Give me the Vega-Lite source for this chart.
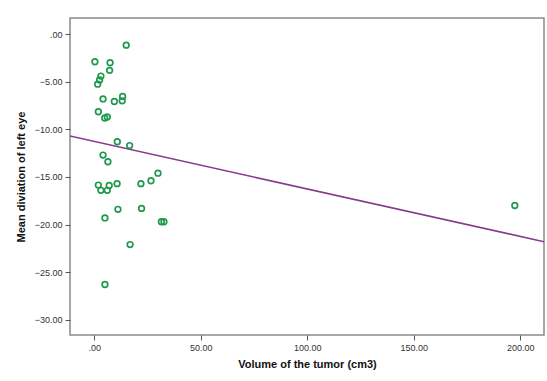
{
  "$schema": "https://vega.github.io/schema/vega-lite/v6.json",
  "width": 474,
  "height": 317,
  "autosize": {"type": "none"},
  "padding": {"left": 70, "top": 18, "right": 3, "bottom": 46},
  "background": "white",
  "config": {
    "view": {"stroke": "#8a8a8a", "strokeWidth": 1.5},
    "axis": {
      "grid": false,
      "domain": false,
      "tickColor": "#555",
      "tickSize": 5,
      "labelFont": "Liberation Sans",
      "labelFontSize": 9,
      "labelColor": "#333",
      "titleFont": "Liberation Sans",
      "titleFontSize": 11,
      "titleFontWeight": "bold",
      "titleColor": "#111"
    }
  },
  "datasets": {
    "points": [
      {"volume": 15.0, "md": -1.15},
      {"volume": 0.3, "md": -2.9},
      {"volume": 7.4, "md": -3.0},
      {"volume": 7.2, "md": -3.8},
      {"volume": 3.1, "md": -4.4},
      {"volume": 2.5, "md": -4.8},
      {"volume": 1.6, "md": -5.25},
      {"volume": 4.1, "md": -6.8},
      {"volume": 9.4, "md": -7.07},
      {"volume": 13.3, "md": -6.55},
      {"volume": 13.1, "md": -7.0},
      {"volume": 1.9, "md": -8.15},
      {"volume": 4.9, "md": -8.8},
      {"volume": 6.1, "md": -8.7},
      {"volume": 10.8, "md": -11.3},
      {"volume": 16.6, "md": -11.7},
      {"volume": 4.1, "md": -12.7},
      {"volume": 6.4, "md": -13.4},
      {"volume": 29.9, "md": -14.6},
      {"volume": 26.6, "md": -15.4},
      {"volume": 21.9, "md": -15.7},
      {"volume": 10.7, "md": -15.7},
      {"volume": 1.9, "md": -15.85},
      {"volume": 7.0, "md": -15.9},
      {"volume": 3.1, "md": -16.4},
      {"volume": 6.1, "md": -16.4},
      {"volume": 11.1, "md": -18.4},
      {"volume": 22.2, "md": -18.3},
      {"volume": 5.0, "md": -19.3},
      {"volume": 31.5, "md": -19.7},
      {"volume": 32.7, "md": -19.7},
      {"volume": 16.8, "md": -22.1},
      {"volume": 5.0, "md": -26.3},
      {"volume": 197.4, "md": -18.0}
    ],
    "fit": [
      {"volume": -11.4, "md": -10.7},
      {"volume": 211.1, "md": -21.8}
    ]
  },
  "layer": [
    {
      "data": {"name": "fit"},
      "mark": {"type": "line", "color": "#8a3a8e", "strokeWidth": 1.6, "clip": true},
      "encoding": {
        "x": {"field": "volume", "type": "quantitative"},
        "y": {"field": "md", "type": "quantitative"}
      }
    },
    {
      "data": {"name": "points"},
      "mark": {"type": "point", "shape": "circle", "filled": false, "stroke": "#1f9a4c", "strokeWidth": 1.7, "size": 32, "opacity": 1},
      "encoding": {
        "x": {
          "field": "volume", "type": "quantitative",
          "scale": {"domain": [-11.4, 211.1], "nice": false, "zero": false},
          "axis": {
            "title": "Volume of the tumor (cm3)",
            "values": [0, 50, 100, 150, 200],
            "labelExpr": "datum.value == 0 ? '.00' : format(datum.value, '.2f')",
            "labelPadding": 3,
            "titlePadding": 6
          }
        },
        "y": {
          "field": "md", "type": "quantitative",
          "scale": {"domain": [-31.6, 1.7], "nice": false, "zero": false},
          "axis": {
            "title": "Mean diviation of left eye",
            "values": [0, -5, -10, -15, -20, -25, -30],
            "labelExpr": "datum.value == 0 ? '.00' : format(datum.value, '.2f')",
            "labelPadding": 3,
            "titlePadding": 8
          }
        }
      }
    }
  ]
}
